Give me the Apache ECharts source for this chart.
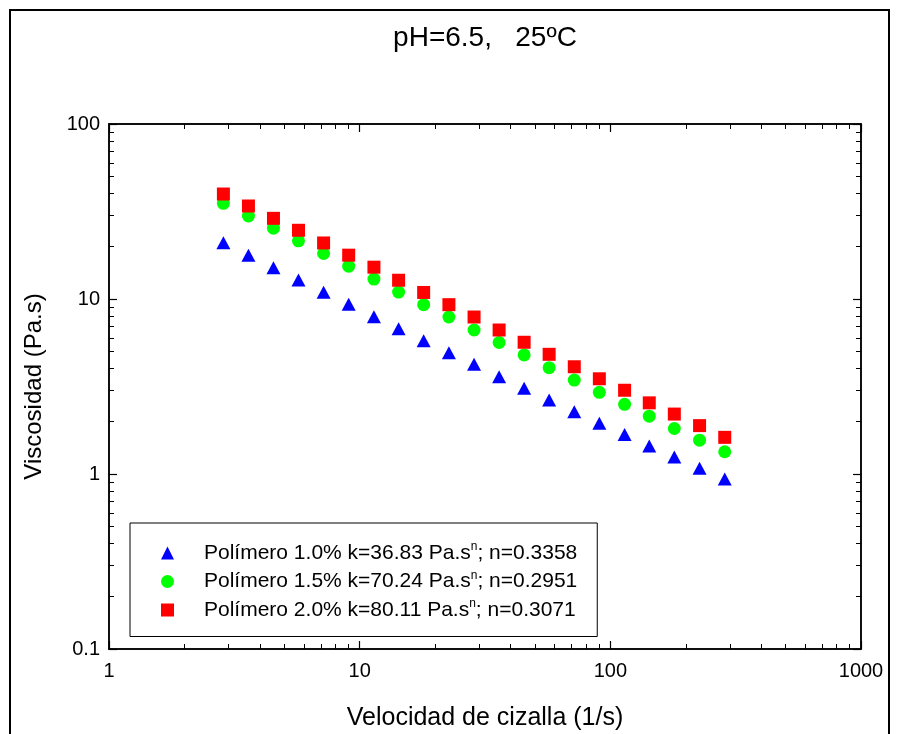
<!DOCTYPE html>
<html><head><meta charset="utf-8">
<script src="https://cdn.jsdelivr.net/npm/echarts@6/dist/echarts.min.js"></script>
<style>html,body{margin:0;padding:0;background:#fff}#c{width:897px;height:734px}</style>
</head><body><div id="c"></div>
<script>
const titleText = 'pH=6.5,   25\u00baC';
const xAxisName = 'Velocidad de cizalla (1/s)';
const yAxisName = 'Viscosidad (Pa.s)';
const shearRate = [2.86, 3.60, 4.53, 5.70, 7.18, 9.04, 11.4, 14.3, 18.0, 22.7, 28.6, 36.0, 45.3, 57.0, 71.8, 90.4, 114, 143, 180, 227, 286];
const visc10 = [20.97, 17.77, 15.10, 12.84, 10.92, 9.33, 7.92, 6.77, 5.78, 4.93, 4.24, 3.60, 3.09, 2.65, 2.27, 1.95, 1.68, 1.445, 1.25, 1.078, 0.936];
const visc15 = [35.2, 29.8, 25.4, 21.5, 18.2, 15.4, 13.0, 10.96, 9.28, 7.89, 6.65, 5.64, 4.79, 4.05, 3.44, 2.93, 2.50, 2.14, 1.82, 1.56, 1.34];
const visc20 = [39.8, 34.0, 28.9, 24.7, 20.9, 17.8, 15.2, 12.8, 10.9, 9.28, 7.89, 6.65, 5.66, 4.83, 4.10, 3.50, 3.01, 2.55, 2.20, 1.89, 1.62];
const seriesNames = ['Polímero 1.0%', 'Polímero 1.5%', 'Polímero 2.0%'];
const seriesK = ['36.83', '70.24', '80.11'];
const seriesN = ['0.3358', '0.2951', '0.3071'];
const xMinorTicks = [2,3,4,5,6,7,8,9,20,30,40,50,60,70,80,90,200,300,400,500,600,700,800,900];
const yMinorTicks = [0.2,0.3,0.4,0.5,0.6,0.7,0.8,0.9,2,3,4,5,6,7,8,9,20,30,40,50,60,70,80,90];

const FONT = 'Liberation Sans, Arial, sans-serif';
const chart = echarts.init(document.getElementById('c'), null, {renderer: 'canvas'});
const fmt = v => String(+(+v).toPrecision(6));

function mkX(pos, show, minor) {
  return {
    type: 'log', logBase: 10, min: 1, max: 1000, gridIndex: 0, position: pos,
    axisLine: {show: true, onZero: false, lineStyle: {color: '#000', width: 1.5}},
    axisTick: minor ? {show: true, inside: true, length: 5, lineStyle: {color: '#000', width: 1}, customValues: xMinorTicks}
                    : {show: true, inside: true, length: 8, lineStyle: {color: '#000', width: 1.2}},
    axisLabel: {show: show, color: '#000', fontSize: 20, fontFamily: FONT, margin: 12, formatter: fmt},
    splitLine: {show: false}, minorTick: {show: false},
    name: show ? xAxisName : '', nameLocation: 'middle', nameGap: 57,
    nameTextStyle: {color: '#000', fontSize: 25, fontFamily: FONT}
  };
}
function mkY(pos, show, minor) {
  return {
    type: 'log', logBase: 10, min: 0.1, max: 100, gridIndex: 0, position: pos,
    axisLine: {show: true, onZero: false, lineStyle: {color: '#000', width: 1.5}},
    axisTick: minor ? {show: true, inside: true, length: 5, lineStyle: {color: '#000', width: 1}, customValues: yMinorTicks}
                    : {show: true, inside: true, length: 8, lineStyle: {color: '#000', width: 1.2}},
    axisLabel: {show: show, color: '#000', fontSize: 20, fontFamily: FONT, margin: 9, formatter: fmt},
    splitLine: {show: false}, minorTick: {show: false},
    name: show ? yAxisName : '', nameLocation: 'middle', nameGap: 63,
    nameTextStyle: {color: '#000', fontSize: 24, fontFamily: FONT}
  };
}

const symbols = ['triangle', 'circle', 'rect'];
const colors = ['#0000ff', '#00ff00', '#ff0000'];
const values = [visc10, visc15, visc20];
const fullNames = seriesNames.map((n, i) => n + ' k=' + seriesK[i] + ' Pa.s^n; n=' + seriesN[i]);

chart.setOption({
  backgroundColor: '#fff',
  animation: false,
  title: {text: titleText, left: 480, textAlign: 'center', top: 19, textStyle: {color: '#000', fontSize: 28, fontWeight: 'normal', fontFamily: FONT}},
  grid: {left: 109, top: 124, width: 752, height: 525, containLabel: false, outerBoundsMode: 'none'},
  xAxis: [mkX('bottom', true, false), mkX('top', false, false), mkX('bottom', false, true), mkX('top', false, true)],
  yAxis: [mkY('left', true, false), mkY('right', false, false), mkY('left', false, true), mkY('right', false, true)],
  legend: {
    orient: 'vertical', left: 130, top: 523,
    padding: [18, 20, 16, 31],
    borderColor: '#000', borderWidth: 1, backgroundColor: '#fff',
    itemWidth: 13, itemHeight: 13, itemGap: 6,
    data: fullNames,
    formatter: function (name) {
      const i = fullNames.indexOf(name);
      return '{p|' + seriesNames[i] + ' k=' + seriesK[i] + ' Pa.s}{s|n}{a|; n=' + seriesN[i] + '}';
    },
    textStyle: {
      color: '#000', fontFamily: FONT, fontSize: 21,
      rich: {
        p: {fontSize: 21, fontFamily: FONT, color: '#000', lineHeight: 24, padding: [0, 0, 0, 25]},
        a: {fontSize: 21, fontFamily: FONT, color: '#000', lineHeight: 24},
        s: {fontSize: 12, fontFamily: FONT, color: '#000', lineHeight: 24, verticalAlign: 'top', padding: [0, 0, 8, 0]}
      }
    }
  },
  graphic: [{type: 'rect', shape: {x: 10, y: 10, width: 879, height: 740}, style: {fill: 'none', stroke: '#000', lineWidth: 2}, silent: true, z: 100}],
  series: values.map((v, i) => ({
    type: 'scatter', name: fullNames[i], xAxisIndex: 0, yAxisIndex: 0,
    symbol: symbols[i], symbolSize: i === 0 ? [14, 13] : 13,
    itemStyle: {color: colors[i], opacity: 1},
    data: shearRate.map((x, j) => [x, v[j]])
  }))
});
</script></body></html>
